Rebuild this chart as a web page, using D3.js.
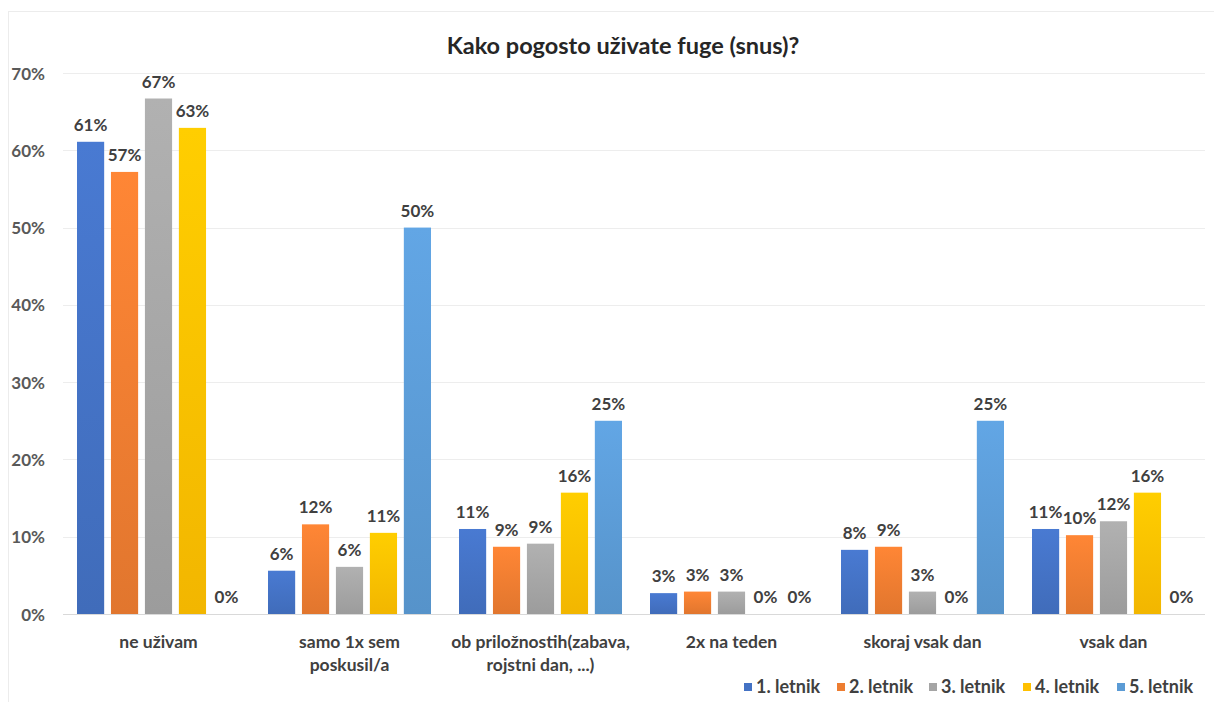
<!DOCTYPE html>
<html>
<head>
<meta charset="utf-8">
<script src="https://cdnjs.cloudflare.com/ajax/libs/d3/7.8.5/d3.min.js"></script>
<style>
    body { margin: 0; background: #fff; }
    svg { display: block; }
    text { font-family: Lato, "Open Sans", sans-serif; }
</style>
</head>
<body>
<svg id="chart" width="1214" height="702"></svg>
<script>
// data
const categories = ["ne uživam", "samo 1x sem poskusil/a", "ob priložnostih(zabava, rojstni dan, ...)", "2x na teden", "skoraj vsak dan", "vsak dan"];
const categoryLines = [["ne uživam"], ["samo 1x sem", "poskusil/a"], ["ob priložnostih(zabava,", "rojstni dan, ...)"], ["2x na teden"], ["skoraj vsak dan"], ["vsak dan"]];
const seriesNames = ["1. letnik", "2. letnik", "3. letnik", "4. letnik", "5. letnik"];
const letnik1 = [0.611, 0.056, 0.110, 0.027, 0.083, 0.110];
const letnik2 = [0.572, 0.116, 0.087, 0.029, 0.087, 0.102];
const letnik3 = [0.667, 0.061, 0.091, 0.029, 0.029, 0.120];
const letnik4 = [0.629, 0.105, 0.157, 0.000, 0.000, 0.157];
const letnik5 = [0.000, 0.500, 0.250, 0.000, 0.250, 0.000];
const yTicks = [0, 0.1, 0.2, 0.3, 0.4, 0.5, 0.6, 0.7];
const colors = ["#4472C4", "#ED7D31", "#A5A5A5", "#FFC000", "#5B9BD5"];

const allSeries = [letnik1, letnik2, letnik3, letnik4, letnik5];

const layout = { left: 63, right: 1209, top: 73, bottom: 614 };

const svg = d3.select("#chart");

// faint chart border like the Excel frame
svg.append("rect")
    .attr("x", 8.5).attr("y", 11.5)
    .attr("width", 1220).attr("height", 700)
    .attr("fill", "none")
    .attr("stroke", "#ececec");

// gradients per series (lighter at the top)
const defs = svg.append("defs");
colors.forEach(function(c, i) {
    let g = defs.append("linearGradient")
        .attr("id", "grad" + i)
        .attr("x1", 0).attr("y1", 0).attr("x2", 0).attr("y2", 1);
    g.append("stop").attr("offset", "0%").attr("stop-color", d3.color(c).brighter(0.2));
    g.append("stop").attr("offset", "100%").attr("stop-color", d3.color(c).darker(0.15));
});

const y = d3.scaleLinear().domain([0, 0.7]).range([layout.bottom, layout.top]);
const x0 = d3.scaleBand().domain(categories).range([layout.left, layout.right]).padding(0);
const x1 = d3.scaleBand().domain(d3.range(seriesNames.length))
    .range([14, x0.bandwidth() - 14]).paddingInner(0.2).paddingOuter(0);

// gridlines
svg.append("g")
    .selectAll("line")
    .data(yTicks)
    .enter().append("line")
    .attr("x1", layout.left).attr("x2", layout.right - 4)
    .attr("y1", function(d) { return Math.round(y(d)) + 0.5; })
    .attr("y2", function(d) { return Math.round(y(d)) + 0.5; })
    .attr("stroke", function(d) { return d == 0 ? "#d9d9d9" : "#ededed"; })
    .attr("stroke-width", 1);

// y axis labels
const yAxis = d3.axisLeft(y).tickValues(yTicks).tickFormat(d3.format(".0%")).tickSize(0).tickPadding(0);
const yAxisG = svg.append("g")
    .attr("transform", "translate(45, 0)")
    .call(yAxis);
yAxisG.select(".domain").remove();
yAxisG.selectAll("text")
    .attr("font-family", "Lato")
    .attr("font-size", "17px")
    .attr("font-weight", "bold")
    .attr("fill", "#595959")
    .attr("dy", "0.36em");

// bars
const groups = svg.append("g").selectAll("g")
    .data(categories)
    .enter().append("g")
    .attr("transform", function(d) { return "translate(" + x0(d) + ",0)"; });

groups.each(function(cat, ci) {
    let g = d3.select(this);
    let vals = allSeries.map(function(s) { return s[ci]; });
    g.selectAll("rect")
        .data(vals)
        .enter().append("rect")
        .attr("x", function(d, i) { return x1(i); })
        .attr("y", function(d) { return y(d); })
        .attr("width", x1.bandwidth())
        .attr("height", function(d) { return y(0) - y(d); })
        .attr("fill", function(d, i) { return "url(#grad" + i + ")"; });
    g.selectAll("text.val")
        .data(vals)
        .enter().append("text")
        .attr("class", "val")
        .attr("x", function(d, i) { return x1(i) + x1.bandwidth() / 2; })
        .attr("y", function(d) { return y(d) - 11; })
        .attr("text-anchor", "middle")
        .attr("font-size", "17px")
        .attr("font-weight", "bold")
        .attr("fill", "#404040")
        .text(function(d) { return d3.format(".0%")(d); });
});

// category labels
const catG = svg.append("g").selectAll("text")
    .data(categories)
    .enter().append("text")
    .attr("x", function(d) { return x0(d) + x0.bandwidth() / 2; })
    .attr("y", 648)
    .attr("text-anchor", "middle")
    .attr("font-size", "17.5px")
    .attr("font-weight", "bold")
    .attr("fill", "#404040");
catG.each(function(d, i) {
    let t = d3.select(this);
    categoryLines[i].forEach(function(line, li) {
        t.append("tspan")
            .attr("x", x0(d) + x0.bandwidth() / 2)
            .attr("dy", li == 0 ? 0 : 23)
            .text(line);
    });
});

// title
svg.append("text")
    .attr("x", 623)
    .attr("y", 54)
    .attr("text-anchor", "middle")
    .attr("font-size", "23.5px")
    .attr("font-weight", "bold")
    .attr("fill", "#262626")
    .text("Kako pogosto uživate fuge (snus)?");

// legend
const legendX = [744, 837, 929, 1023, 1117];
const legend = svg.append("g").selectAll("g")
    .data(seriesNames)
    .enter().append("g")
    .attr("transform", function(d, i) { return "translate(" + legendX[i] + ",687)"; });
legend.append("rect")
    .attr("x", 0).attr("y", -4)
    .attr("width", 8).attr("height", 8)
    .attr("fill", function(d, i) { return colors[i]; });
legend.append("text")
    .attr("x", 12)
    .attr("y", 0)
    .attr("dy", "0.35em")
    .attr("font-size", "18px")
    .attr("font-weight", "bold")
    .attr("fill", "#404040")
    .text(function(d) { return d; });
</script>
</body>
</html>
